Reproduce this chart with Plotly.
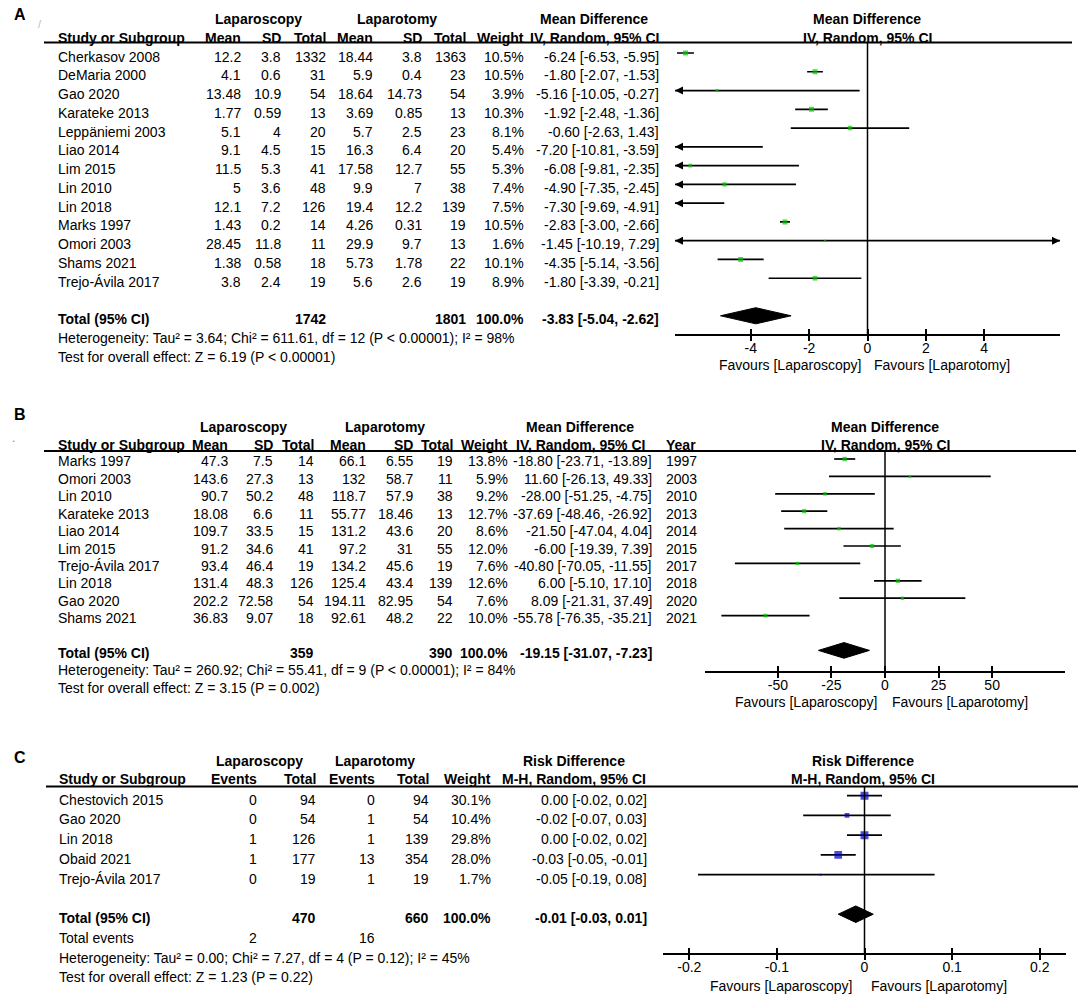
import math
import plotly.graph_objects as go

W, H = 1084, 999
FONT = "Liberation Sans, Arial, sans-serif"
GREEN = "#00c800"
BLUE = "#0000c8"

# ---------------- Panel A data ----------------
a_studies = ["Cherkasov 2008", "DeMaria 2000", "Gao 2020", "Karateke 2013", "Leppäniemi 2003",
             "Liao 2014", "Lim 2015", "Lin 2010", "Lin 2018", "Marks 1997", "Omori 2003",
             "Shams 2021", "Trejo-Ávila 2017"]
a_lap_mean = [12.2, 4.1, 13.48, 1.77, 5.1, 9.1, 11.5, 5, 12.1, 1.43, 28.45, 1.38, 3.8]
a_lap_sd = [3.8, 0.6, 10.9, 0.59, 4, 4.5, 5.3, 3.6, 7.2, 0.2, 11.8, 0.58, 2.4]
a_lap_n = [1332, 31, 54, 13, 20, 15, 41, 48, 126, 14, 11, 18, 19]
a_open_mean = [18.44, 5.9, 18.64, 3.69, 5.7, 16.3, 17.58, 9.9, 19.4, 4.26, 29.9, 5.73, 5.6]
a_open_sd = [3.8, 0.4, 14.73, 0.85, 2.5, 6.4, 12.7, 7, 12.2, 0.31, 9.7, 1.78, 2.6]
a_open_n = [1363, 23, 54, 13, 23, 20, 55, 38, 139, 19, 13, 22, 19]
a_weight = [10.5, 10.5, 3.9, 10.3, 8.1, 5.4, 5.3, 7.4, 7.5, 10.5, 1.6, 10.1, 8.9]
a_md = [-6.24, -1.80, -5.16, -1.92, -0.60, -7.20, -6.08, -4.90, -7.30, -2.83, -1.45, -4.35, -1.80]
a_lo = [-6.53, -2.07, -10.05, -2.48, -2.63, -10.81, -9.81, -7.35, -9.69, -3.00, -10.19, -5.14, -3.39]
a_hi = [-5.95, -1.53, -0.27, -1.36, 1.43, -3.59, -2.35, -2.45, -4.91, -2.66, 7.29, -3.56, -0.21]
a_tot_lap_n = 1742
a_tot_open_n = 1801
a_tot_md, a_tot_lo, a_tot_hi = -3.83, -5.04, -2.62
a_het = "Heterogeneity: Tau² = 3.64; Chi² = 611.61, df = 12 (P < 0.00001); I² = 98%"
a_test = "Test for overall effect: Z = 6.19 (P < 0.00001)"
a_ticks = [-4, -2, 0, 2, 4]
a_ticktext = ["-4", "-2", "0", "2", "4"]
a_range = [-6.6, 6.6]

# ---------------- Panel B data ----------------
b_studies = ["Marks 1997", "Omori 2003", "Lin 2010", "Karateke 2013", "Liao 2014", "Lim 2015",
             "Trejo-Ávila 2017", "Lin 2018", "Gao 2020", "Shams 2021"]
b_lap_mean = [47.3, 143.6, 90.7, 18.08, 109.7, 91.2, 93.4, 131.4, 202.2, 36.83]
b_lap_sd = [7.5, 27.3, 50.2, 6.6, 33.5, 34.6, 46.4, 48.3, 72.58, 9.07]
b_lap_n = [14, 13, 48, 11, 15, 41, 19, 126, 54, 18]
b_open_mean = [66.1, 132, 118.7, 55.77, 131.2, 97.2, 134.2, 125.4, 194.11, 92.61]
b_open_sd = [6.55, 58.7, 57.9, 18.46, 43.6, 31, 45.6, 43.4, 82.95, 48.2]
b_open_n = [19, 11, 38, 13, 20, 55, 19, 139, 54, 22]
b_weight = [13.8, 5.9, 9.2, 12.7, 8.6, 12.0, 7.6, 12.6, 7.6, 10.0]
b_md = [-18.80, 11.60, -28.00, -37.69, -21.50, -6.00, -40.80, 6.00, 8.09, -55.78]
b_lo = [-23.71, -26.13, -51.25, -48.46, -47.04, -19.39, -70.05, -5.10, -21.31, -76.35]
b_hi = [-13.89, 49.33, -4.75, -26.92, 4.04, 7.39, -11.55, 17.10, 37.49, -35.21]
b_year = [1997, 2003, 2010, 2013, 2014, 2015, 2017, 2018, 2020, 2021]
b_tot_lap_n = 359
b_tot_open_n = 390
b_tot_md, b_tot_lo, b_tot_hi = -19.15, -31.07, -7.23
b_het = "Heterogeneity: Tau² = 260.92; Chi² = 55.41, df = 9 (P < 0.00001); I² = 84%"
b_test = "Test for overall effect: Z = 3.15 (P = 0.002)"
b_ticks = [-50, -25, 0, 25, 50]
b_ticktext = ["-50", "-25", "0", "25", "50"]
b_range = [-84, 84]

# ---------------- Panel C data ----------------
c_studies = ["Chestovich 2015", "Gao 2020", "Lin 2018", "Obaid 2021", "Trejo-Ávila 2017"]
c_lap_ev = [0, 0, 1, 1, 0]
c_lap_n = [94, 54, 126, 177, 19]
c_open_ev = [0, 1, 1, 13, 1]
c_open_n = [94, 54, 139, 354, 19]
c_weight = [30.1, 10.4, 29.8, 28.0, 1.7]
c_rd = [0.00, -0.02, 0.00, -0.03, -0.05]
c_lo = [-0.02, -0.07, -0.02, -0.05, -0.19]
c_hi = [0.02, 0.03, 0.02, -0.01, 0.08]
c_tot_lap_n = 470
c_tot_open_n = 660
c_tot_lap_ev = 2
c_tot_open_ev = 16
c_tot_rd, c_tot_lo, c_tot_hi = -0.01, -0.03, 0.01
c_het = "Heterogeneity: Tau² = 0.00; Chi² = 7.27, df = 4 (P = 0.12); I² = 45%"
c_test = "Test for overall effect: Z = 1.23 (P = 0.22)"
c_ticks = [-0.2, -0.1, 0, 0.1, 0.2]
c_ticktext = ["-0.2", "-0.1", "0", "0.1", "0.2"]
c_range = [-0.23, 0.23]

annotations = []
shapes = []
fig = go.Figure()


def P(px):
    return px / W


def Q(py):
    return 1 - py / H


def txt(x, y, s, anchor="right", bold=False, size=14, color="black"):
    annotations.append(dict(
        x=P(x), y=Q(y), xref="paper", yref="paper", text=("<b>%s</b>" % s) if bold else s,
        showarrow=False, xanchor=anchor, yanchor="middle", borderpad=0,
        font=dict(size=size, family=FONT, color=color)))


def hline(x0, x1, y, w=2):
    shapes.append(dict(type="line", xref="paper", yref="paper", x0=P(x0), x1=P(x1),
                       y0=Q(y), y1=Q(y), line=dict(color="black", width=w)))


def fmt(v):
    return "%g" % v


def ci(m, l, h):
    return "%.2f [%.2f, %.2f]" % (m, l, h)


def forest(ax_id, md, lo, hi, weight, tot, rng, dom_px, top_px, bot_px, base, sp,
           color, ksize, ticks, ticktext, diamond_h):
    xa = "x" if ax_id == 1 else "x%d" % ax_id
    ya = "y" if ax_id == 1 else "y%d" % ax_id
    n = len(md)
    unit = (rng[1] - rng[0]) / (dom_px[1] - dom_px[0])
    xs, ys = [], []
    for i in range(n):
        l = max(lo[i], rng[0])
        h = min(hi[i], rng[1])
        xs += [l, h, None]
        ys += [i, i, None]
        if lo[i] < rng[0]:
            annotations.append(dict(x=rng[0], y=i, xref=xa, yref=ya, ax=rng[0] + 9 * unit, ay=i,
                                    axref=xa, ayref=ya, text="", showarrow=True, arrowhead=2,
                                    arrowsize=1, arrowwidth=1.6, arrowcolor="black", standoff=0))
        if hi[i] > rng[1]:
            annotations.append(dict(x=rng[1], y=i, xref=xa, yref=ya, ax=rng[1] - 9 * unit, ay=i,
                                    axref=xa, ayref=ya, text="", showarrow=True, arrowhead=2,
                                    arrowsize=1, arrowwidth=1.6, arrowcolor="black", standoff=0))
    fig.add_trace(go.Scatter(x=xs, y=ys, mode="lines", line=dict(color="black", width=1.7),
                             xaxis=xa, yaxis=ya, hoverinfo="skip", showlegend=False))
    mx = [md[i] for i in range(n) if rng[0] <= md[i] <= rng[1]]
    my = [i for i in range(n) if rng[0] <= md[i] <= rng[1]]
    ms = [ksize * math.sqrt(weight[i]) for i in range(n) if rng[0] <= md[i] <= rng[1]]
    fig.add_trace(go.Scatter(x=mx, y=my, mode="markers",
                             marker=dict(symbol="square", size=ms, color=color, line=dict(width=0)),
                             xaxis=xa, yaxis=ya, hoverinfo="skip", showlegend=False))
    tm, tl, th = tot
    R = n + 1
    fig.add_trace(go.Scatter(x=[tl, tm, th, tm, tl], y=[R, R - diamond_h, R, R + diamond_h, R],
                             mode="lines", fill="toself", fillcolor="black",
                             line=dict(color="black", width=1), xaxis=xa, yaxis=ya,
                             hoverinfo="skip", showlegend=False))
    shapes.append(dict(type="line", xref=xa, yref=ya + " domain", x0=0, x1=0, y0=0, y1=1,
                       line=dict(color="black", width=1.5)))
    axis = dict(domain=[P(dom_px[0]), P(dom_px[1])], range=rng, anchor=ya, showline=True,
                linecolor="black", linewidth=1.6, ticks="outside", ticklen=5, tickwidth=1.6,
                tickcolor="black", tickvals=ticks, ticktext=ticktext, showgrid=False,
                zeroline=False, tickfont=dict(size=14, family=FONT, color="black"),
                ticklabelstandoff=-5, fixedrange=True)
    yaxis = dict(domain=[Q(bot_px), Q(top_px)], range=[(bot_px - base) / sp, (top_px - base) / sp],
                 visible=False, fixedrange=True, showgrid=False, zeroline=False)
    key = "" if ax_id == 1 else str(ax_id)
    # second axis drawing the upward half of the crossing tick marks
    k2 = ax_id + 3
    axis2 = dict(overlaying=xa, anchor=ya, range=rng, tickvals=ticks, ticks="inside", ticklen=5,
                 tickwidth=1.6, tickcolor="black", showticklabels=False, showline=False,
                 showgrid=False, zeroline=False, fixedrange=True, side="bottom")
    fig.add_trace(go.Scatter(x=[rng[0]], y=[0], mode="markers", marker=dict(opacity=0, size=1),
                             xaxis="x%d" % k2, yaxis=ya, hoverinfo="skip", showlegend=False))
    fig.update_layout(**{"xaxis" + key: axis, "yaxis" + key: yaxis, "xaxis%d" % k2: axis2})


# ===================== Panel A =====================
A_BASE, A_SP, A_DT = 53.0, 18.77, 3.5
SX = 57
txt(13, 15, "A", anchor="left", bold=True, size=16)
txt(40, 24, "/", anchor="center", size=11, color="#bbbbbb")
txt(258, 19, "Laparoscopy", anchor="center", bold=True)
txt(397, 19, "Laparotomy", anchor="center", bold=True)
txt(594, 19, "Mean Difference", anchor="center", bold=True)
txt(867, 19, "Mean Difference", anchor="center", bold=True)
txt(SX, 38, "Study or Subgroup", anchor="left", bold=True)
a_cols = [242, 282, 327, 374, 423, 467, 525]
for xpos, lab in zip(a_cols, ["Mean", "SD", "Total", "Mean", "SD", "Total", "Weight"]):
    txt(xpos, 38, lab, bold=True)
txt(594, 38, "IV, Random, 95% CI", anchor="center", bold=True)
txt(867, 38, "IV, Random, 95% CI", anchor="center", bold=True)
hline(44, 1072, 42.5)
for i in range(len(a_studies)):
    y = A_BASE + A_DT + A_SP * i
    txt(SX, y, a_studies[i], anchor="left")
    vals = [fmt(a_lap_mean[i]), fmt(a_lap_sd[i]), str(a_lap_n[i]), fmt(a_open_mean[i]),
            fmt(a_open_sd[i]), str(a_open_n[i]), "%.1f%%" % a_weight[i]]
    for xpos, v in zip(a_cols, vals):
        txt(xpos, y, v)
    txt(660, y, ci(a_md[i], a_lo[i], a_hi[i]))
yT = A_BASE + A_DT + A_SP * (len(a_studies) + 1)
txt(SX, yT, "Total (95% CI)", anchor="left", bold=True)
txt(a_cols[2], yT, str(a_tot_lap_n), bold=True)
txt(a_cols[5], yT, str(a_tot_open_n), bold=True)
txt(a_cols[6], yT, "100.0%", bold=True)
txt(660, yT, ci(a_tot_md, a_tot_lo, a_tot_hi), bold=True)
txt(SX, yT + A_SP, a_het, anchor="left")
txt(SX, yT + 2 * A_SP, a_test, anchor="left")
forest(1, a_md, a_lo, a_hi, a_weight, (a_tot_md, a_tot_lo, a_tot_hi), a_range, (675, 1060),
       42.5, 334, A_BASE, A_SP, GREEN, 1.55, a_ticks, a_ticktext, 0.43)
txt(862, 365, "Favours [Laparoscopy]", anchor="right")
txt(873, 365, "Favours [Laparotomy]", anchor="left")

# ===================== Panel B =====================
B_BASE, B_SP, B_DT = 459.0, 17.4, 2.5
txt(13, 414, "B", anchor="left", bold=True, size=16)
txt(13, 438, ".", anchor="center", size=12, color="#888888")
txt(243, 427, "Laparoscopy", anchor="center", bold=True)
txt(385, 427, "Laparotomy", anchor="center", bold=True)
txt(580, 427, "Mean Difference", anchor="center", bold=True)
txt(885, 427, "Mean Difference", anchor="center", bold=True)
txt(SX, 445, "Study or Subgroup", anchor="left", bold=True)
b_cols = [229, 274, 315, 367, 414, 454, 509]
for xpos, lab in zip(b_cols, ["Mean", "SD", "Total", "Mean", "SD", "Total", "Weight"]):
    txt(xpos, 445, lab, bold=True)
txt(580, 445, "IV, Random, 95% CI", anchor="center", bold=True)
txt(665, 445, "Year", anchor="left", bold=True)
txt(885, 445, "IV, Random, 95% CI", anchor="center", bold=True)
hline(44, 1076, 451)
for i in range(len(b_studies)):
    y = B_BASE + B_DT + B_SP * i
    txt(SX, y, b_studies[i], anchor="left")
    vals = [fmt(b_lap_mean[i]), fmt(b_lap_sd[i]), str(b_lap_n[i]), fmt(b_open_mean[i]),
            fmt(b_open_sd[i]), str(b_open_n[i]), "%.1f%%" % b_weight[i]]
    for xpos, v in zip(b_cols, vals):
        txt(xpos, y, v)
    txt(653, y, ci(b_md[i], b_lo[i], b_hi[i]))
    txt(665, y, str(b_year[i]), anchor="left")
yT = B_BASE + B_DT + B_SP * (len(b_studies) + 1)
txt(SX, yT, "Total (95% CI)", anchor="left", bold=True)
txt(b_cols[2], yT, str(b_tot_lap_n), bold=True)
txt(b_cols[5], yT, str(b_tot_open_n), bold=True)
txt(b_cols[6], yT, "100.0%", bold=True)
txt(653, yT, ci(b_tot_md, b_tot_lo, b_tot_hi), bold=True)
txt(SX, yT + B_SP, b_het, anchor="left")
txt(SX, yT + 2 * B_SP, b_test, anchor="left")
forest(2, b_md, b_lo, b_hi, b_weight, (b_tot_md, b_tot_lo, b_tot_hi), b_range, (705, 1065),
       451, 671, B_BASE, B_SP, GREEN, 1.2, b_ticks, b_ticktext, 0.45)
txt(878, 702, "Favours [Laparoscopy]", anchor="right")
txt(891, 702, "Favours [Laparotomy]", anchor="left")

# ===================== Panel C =====================
C_BASE, C_SP, C_DT = 795.7, 19.75, 4.0
CX = 58
txt(13, 757, "C", anchor="left", bold=True, size=16)
txt(259, 761, "Laparoscopy", anchor="center", bold=True)
txt(375, 761, "Laparotomy", anchor="center", bold=True)
txt(574, 761, "Risk Difference", anchor="center", bold=True)
txt(863, 761, "Risk Difference", anchor="center", bold=True)
txt(CX, 779, "Study or Subgroup", anchor="left", bold=True)
c_cols = [258, 317, 376, 430, 492]
for xpos, lab in zip(c_cols, ["Events", "Total", "Events", "Total", "Weight"]):
    txt(xpos, 779, lab, bold=True)
txt(574, 779, "M-H, Random, 95% CI", anchor="center", bold=True)
txt(863, 779, "M-H, Random, 95% CI", anchor="center", bold=True)
hline(46, 1078, 786.5)
for i in range(len(c_studies)):
    y = C_BASE + C_DT + C_SP * i
    txt(CX, y, c_studies[i], anchor="left")
    vals = [str(c_lap_ev[i]), str(c_lap_n[i]), str(c_open_ev[i]), str(c_open_n[i]),
            "%.1f%%" % c_weight[i]]
    for xpos, v in zip(c_cols, vals):
        txt(xpos, y, v)
    txt(648, y, ci(c_rd[i], c_lo[i], c_hi[i]))
yT = C_BASE + C_DT + C_SP * (len(c_studies) + 1)
txt(CX, yT, "Total (95% CI)", anchor="left", bold=True)
txt(c_cols[1], yT, str(c_tot_lap_n), bold=True)
txt(c_cols[3], yT, str(c_tot_open_n), bold=True)
txt(c_cols[4], yT, "100.0%", bold=True)
txt(648, yT, ci(c_tot_rd, c_tot_lo, c_tot_hi), bold=True)
txt(CX, yT + C_SP, "Total events", anchor="left")
txt(c_cols[0], yT + C_SP, str(c_tot_lap_ev))
txt(c_cols[2], yT + C_SP, str(c_tot_open_ev))
txt(CX, yT + 2 * C_SP, c_het, anchor="left")
txt(CX, yT + 3 * C_SP, c_test, anchor="left")
forest(3, c_rd, c_lo, c_hi, c_weight, (c_tot_rd, c_tot_lo, c_tot_hi), c_range, (663, 1066),
       786.5, 953, C_BASE, C_SP, BLUE, 1.45, c_ticks, c_ticktext, 0.42)
txt(853, 986, "Favours [Laparoscopy]", anchor="right")
txt(870, 986, "Favours [Laparotomy]", anchor="left")

fig.update_layout(width=W, height=H, margin=dict(l=0, r=0, t=0, b=0), autosize=False,
                  paper_bgcolor="white", plot_bgcolor="rgba(0,0,0,0)", showlegend=False,
                  annotations=annotations, shapes=shapes,
                  font=dict(family=FONT, size=14, color="black"))
fig.write_html("out.html", config={"displayModeBar": False},
               post_script="document.body.style.margin='0';document.body.style.overflow='hidden';")
